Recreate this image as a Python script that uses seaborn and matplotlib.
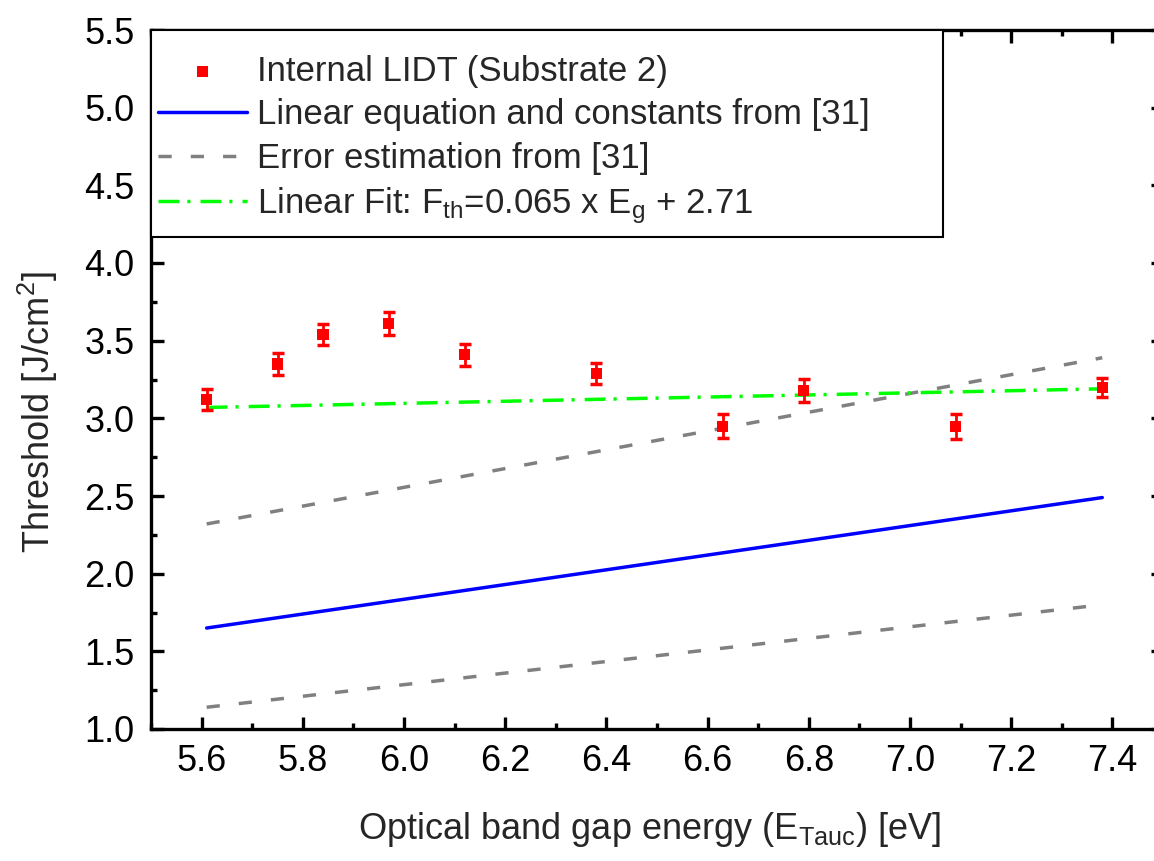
import matplotlib
matplotlib.use("Agg")
import matplotlib.pyplot as plt
import matplotlib.patches as mpatches
import seaborn as sns
import pandas as pd
from matplotlib.ticker import MultipleLocator

# ---- data ----
band_gap = [5.61, 5.75, 5.84, 5.97, 6.12, 6.38, 6.63, 6.79, 7.09, 7.38]
threshold = [3.12, 3.35, 3.54, 3.61, 3.41, 3.29, 2.95, 3.18, 2.95, 3.20]
threshold_err = [0.067, 0.070, 0.070, 0.074, 0.070, 0.068, 0.078, 0.072, 0.080, 0.060]

line_x = [5.61, 7.38]
ref_linear = [1.65, 2.49]
ref_err_upper = [2.32, 3.39]
ref_err_lower = [1.14, 1.80]
fit_line = [3.07, 3.19]

labels = [
    "Internal LIDT (Substrate 2)",
    "Linear equation and constants from [31]",
    "Error estimation from [31]",
    r"Linear Fit: F$_\mathrm{th}$=0.065 x E$_\mathrm{g}$ + 2.71",
]
x_label = r"Optical band gap energy (E$_\mathrm{Tauc}$) [eV]"
y_label = r"Threshold [J/cm$^\mathrm{2}$]"

# ---- style ----
sns.set_style("ticks")
plt.rcParams["font.family"] = ["Liberation Sans", "DejaVu Sans"]
plt.rcParams["mathtext.fontset"] = "custom"
plt.rcParams["mathtext.rm"] = "Liberation Sans"
plt.rcParams["mathtext.it"] = "Liberation Sans:italic"
plt.rcParams["mathtext.bf"] = "Liberation Sans:bold"

fig = plt.figure(figsize=(11.54, 8.61), dpi=100)
ax = fig.add_axes([151 / 1154, (861 - 729) / 861, 1012 / 1154, 699 / 861])

df_pts = pd.DataFrame({"x": band_gap, "y": threshold})
df_lin = pd.DataFrame({"x": line_x, "y": ref_linear})
df_up = pd.DataFrame({"x": line_x, "y": ref_err_upper})
df_lo = pd.DataFrame({"x": line_x, "y": ref_err_lower})
df_fit = pd.DataFrame({"x": line_x, "y": fit_line})

lw = 2.5
sns.lineplot(data=df_lin, x="x", y="y", ax=ax, color="#0000FF", lw=lw,
             estimator=None, sort=False)
sns.lineplot(data=df_up, x="x", y="y", ax=ax, color="#808080", lw=lw,
             estimator=None, sort=False, linestyle=(0, (3.8, 5.5)))
sns.lineplot(data=df_lo, x="x", y="y", ax=ax, color="#808080", lw=lw,
             estimator=None, sort=False, linestyle=(0, (3.8, 5.5)))
sns.lineplot(data=df_fit, x="x", y="y", ax=ax, color="#00FF00", lw=lw,
             estimator=None, sort=False, linestyle=(0, (6.0, 2.3, 0.9, 2.9)))

ax.errorbar(band_gap, threshold, yerr=threshold_err, fmt="none",
            ecolor="#FF0000", elinewidth=2.0, capsize=4.5, capthick=2.5, zorder=4)
sns.scatterplot(data=df_pts, x="x", y="y", ax=ax, marker="s", s=64,
                color="#FF0000", edgecolor="none", zorder=5)

ax.set_xlim(5.5, 7.5)
ax.set_ylim(1.0, 5.5)
ax.xaxis.set_major_locator(MultipleLocator(0.2))
ax.xaxis.set_minor_locator(MultipleLocator(0.1))
ax.yaxis.set_major_locator(MultipleLocator(0.5))
ax.yaxis.set_minor_locator(MultipleLocator(0.25))
ax.xaxis.set_major_formatter(matplotlib.ticker.FormatStrFormatter("%.1f"))
ax.yaxis.set_major_formatter(matplotlib.ticker.FormatStrFormatter("%.1f"))

for s in ax.spines.values():
    s.set_linewidth(2.4)
    s.set_color("black")
    s.set_visible(True)

ax.tick_params(which="both", direction="in", top=True, right=True,
               width=2.4, color="black", labelsize=26, labelcolor="black")
ax.tick_params(which="major", length=9)
ax.tick_params(which="minor", length=4.5)
ax.tick_params(axis="x", which="major", pad=10.5)
ax.tick_params(axis="y", which="major", pad=12)

ax.set_xlabel(x_label, fontsize=26, va="center")
ax.set_ylabel(y_label, fontsize=26, va="center")
ax.xaxis.set_label_coords(0.493, -0.1440)
ax.yaxis.set_label_coords(-0.112, 0.4535)

# legend frame (drawn separately so the box matches the reference size)
box_h = (237 - 30) / 699
box_w = (943 - 151) / 1012
frame = mpatches.Rectangle((0, 1 - box_h), box_w, box_h, transform=ax.transAxes,
                           facecolor="white", edgecolor="black", lw=1.5,
                           zorder=9, clip_on=False)
ax.add_patch(frame)

handles = [ax.collections[-1], ax.lines[0], ax.lines[1], ax.lines[3]]
leg = ax.legend(handles, labels, loc="upper left",
                bbox_to_anchor=((158 - 151) / 1012, 1 - (55 - 30) / 699),
                borderaxespad=0, borderpad=0, frameon=False, fontsize=25,
                handlelength=2.55, handletextpad=0.3, labelspacing=0.3)
leg.set_zorder(10)

fig.savefig("out.png", dpi=100)
